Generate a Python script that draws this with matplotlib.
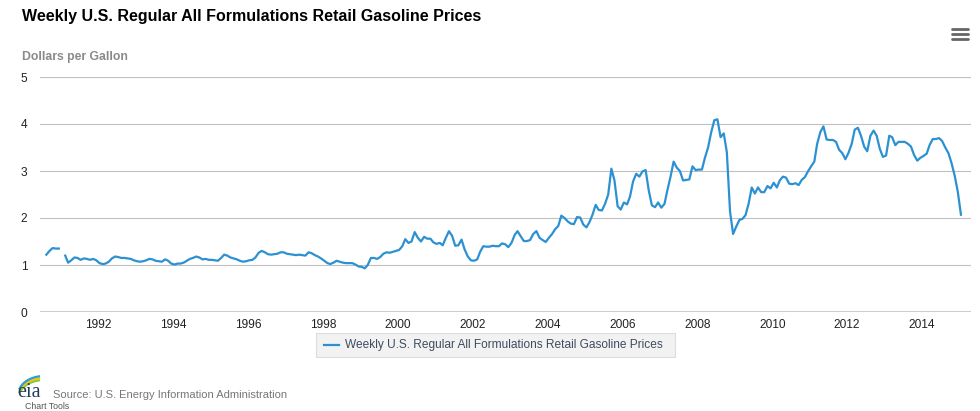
import matplotlib
matplotlib.use("Agg")
import matplotlib.pyplot as plt
import matplotlib.dates as mdates
from matplotlib.patches import Arc, Rectangle
from matplotlib.lines import Line2D
import numpy as np
import pandas as pd

plt.rcParams['font.family'] = ['Liberation Sans', 'DejaVu Sans']

# Monthly readings of the weekly series ($/gal), one list per year, Aug 1990 - Jan 2015
# (None = gap in the weekly data around Jan 1991)
p1990 = [1.22, 1.30, 1.36, 1.35, 1.35]
p1991 = [None, 1.20, 1.05, 1.10, 1.16, 1.15, 1.11, 1.14, 1.13, 1.11, 1.13, 1.10]
p1992 = [1.04, 1.02, 1.03, 1.07, 1.14, 1.18, 1.17, 1.15, 1.15, 1.14, 1.13, 1.10]
p1993 = [1.08, 1.07, 1.08, 1.10, 1.13, 1.12, 1.09, 1.08, 1.07, 1.12, 1.09, 1.03]
p1994 = [1.01, 1.03, 1.03, 1.05, 1.09, 1.13, 1.15, 1.18, 1.16, 1.12, 1.13, 1.11]
p1995 = [1.11, 1.10, 1.09, 1.15, 1.22, 1.20, 1.16, 1.14, 1.12, 1.09, 1.07, 1.08]
p1996 = [1.10, 1.11, 1.16, 1.26, 1.30, 1.27, 1.23, 1.22, 1.23, 1.24, 1.27, 1.27]
p1997 = [1.24, 1.23, 1.22, 1.21, 1.22, 1.21, 1.20, 1.27, 1.25, 1.21, 1.18, 1.14]
p1998 = [1.09, 1.04, 1.02, 1.05, 1.09, 1.07, 1.05, 1.04, 1.04, 1.04, 1.01, 0.97]
p1999 = [0.96, 0.93, 1.00, 1.15, 1.15, 1.13, 1.17, 1.24, 1.27, 1.26, 1.28, 1.30]
p2000 = [1.32, 1.40, 1.55, 1.47, 1.50, 1.70, 1.58, 1.50, 1.60, 1.56, 1.56, 1.48]
p2001 = [1.45, 1.47, 1.42, 1.58, 1.72, 1.62, 1.41, 1.42, 1.54, 1.33, 1.18, 1.10]
p2002 = [1.09, 1.12, 1.28, 1.40, 1.39, 1.39, 1.41, 1.40, 1.40, 1.46, 1.44, 1.38]
p2003 = [1.47, 1.64, 1.72, 1.61, 1.51, 1.51, 1.53, 1.66, 1.72, 1.58, 1.53, 1.49]
p2004 = [1.58, 1.66, 1.76, 1.83, 2.05, 2.00, 1.93, 1.88, 1.87, 2.02, 2.01, 1.86]
p2005 = [1.80, 1.92, 2.07, 2.28, 2.17, 2.16, 2.30, 2.50, 3.05, 2.80, 2.25, 2.18]
p2006 = [2.33, 2.29, 2.45, 2.78, 2.94, 2.88, 2.99, 3.02, 2.58, 2.27, 2.23, 2.33]
p2007 = [2.22, 2.30, 2.59, 2.88, 3.20, 3.07, 3.00, 2.80, 2.81, 2.82, 3.10, 3.02]
p2008 = [3.03, 3.03, 3.28, 3.50, 3.82, 4.08, 4.10, 3.72, 3.80, 3.40, 2.14, 1.66]
p2009 = [1.82, 1.96, 1.98, 2.06, 2.30, 2.65, 2.52, 2.65, 2.55, 2.55, 2.68, 2.63]
p2010 = [2.75, 2.65, 2.80, 2.88, 2.86, 2.73, 2.72, 2.74, 2.70, 2.81, 2.87, 2.99]
p2011 = [3.10, 3.20, 3.58, 3.83, 3.95, 3.67, 3.66, 3.66, 3.62, 3.45, 3.38, 3.25]
p2012 = [3.39, 3.58, 3.88, 3.92, 3.75, 3.52, 3.42, 3.75, 3.86, 3.75, 3.47, 3.30]
p2013 = [3.33, 3.75, 3.72, 3.55, 3.62, 3.62, 3.62, 3.58, 3.52, 3.34, 3.22, 3.28]
p2014 = [3.32, 3.37, 3.55, 3.68, 3.68, 3.70, 3.64, 3.50, 3.38, 3.17, 2.90, 2.56]
p2015 = [2.07]

series_name = 'Weekly U.S. Regular All Formulations Retail Gasoline Prices'
y_ticks = [0, 1, 2, 3, 4, 5]

prices = (p1990 + p1991 + p1992 + p1993 + p1994 + p1995 + p1996 + p1997 + p1998
          + p1999 + p2000 + p2001 + p2002 + p2003 + p2004 + p2005 + p2006 + p2007
          + p2008 + p2009 + p2010 + p2011 + p2012 + p2013 + p2014 + p2015)
prices = np.array([np.nan if v is None else v for v in prices], dtype=float)
dates = pd.date_range('1990-08-01', periods=len(prices), freq='MS') + pd.Timedelta(days=14)

line_color = '#2c91d2'

fig = plt.figure(figsize=(9.8, 4.11), dpi=100)
ax = fig.add_axes([40 / 980, 99 / 411, 931 / 980, 235 / 411])

ax.plot(dates, prices, color=line_color, linewidth=1.6, solid_joinstyle='round')

ax.set_ylim(0, 5)
ax.set_xlim(pd.Timestamp('1990-06-14'), pd.Timestamp('2015-04-23'))
ax.set_yticks(y_ticks)
ax.xaxis.set_major_locator(mdates.YearLocator(2))
ax.xaxis.set_major_formatter(mdates.DateFormatter('%Y'))

# Highcharts-like grid: light gray horizontal lines, dark baseline
ax.grid(axis='y', color='#c0c0c0', linewidth=0.8)
ax.axhline(0, color='#111111', linewidth=1.0, zorder=3)
for side in ['top', 'right', 'left', 'bottom']:
    ax.spines[side].set_visible(False)
ax.tick_params(axis='both', length=0, labelsize=8.6, colors='#222222')
ax.tick_params(axis='y', pad=9)
ax.tick_params(axis='x', pad=5)
for lbl in ax.get_yticklabels():
    lbl.set_horizontalalignment('right')

# Titles
fig.text(22 / 980, 1 - 17 / 411, 'Weekly U.S. Regular All Formulations Retail Gasoline Prices',
         fontsize=11.5, fontweight='bold', color='#000000', va='center', ha='left')
fig.text(22 / 980, 1 - 57 / 411, 'Dollars per Gallon', fontsize=8.8, fontweight='bold',
         color='#8a8a8a', va='center', ha='left')

# Menu icon
for yy in [29, 34, 39]:
    fig.add_artist(Line2D([952 / 980, 968 / 980], [1 - yy / 411, 1 - yy / 411],
                          color='#666666', linewidth=2.0, solid_capstyle='round'))

# Legend box
fig.add_artist(Rectangle((316 / 980, 1 - 357 / 411), 359 / 980, 24 / 411,
                         facecolor='#f2f2f2', edgecolor='#dddddd', linewidth=0.8))
fig.add_artist(Line2D([324 / 980, 339 / 980], [1 - 345 / 411, 1 - 345 / 411],
                      color=line_color, linewidth=1.6))
fig.text(345 / 980, 1 - 345 / 411, series_name, fontsize=8.6, color='#3d4d60',
         va='center', ha='left')

# EIA logo and source
fig.text(17 / 980, 1 - 397 / 411, 'eia', fontsize=14.5, color='#1f3a60',
         family=['Liberation Serif', 'DejaVu Serif'], va='baseline', ha='left')
arc_colors = ['#8cc63f', '#f5c400', '#2b9fd8']
for i, c in enumerate(arc_colors):
    fig.add_artist(Arc((44 / 980, 1 - (399 - 2 * i) / 411), 52 / 980, 38 / 411,
                       theta1=95, theta2=152, color=c, linewidth=1.6))
fig.text(53 / 980, 1 - 395 / 411, 'Source: U.S. Energy Information Administration',
         fontsize=8.0, color='#777777', va='center', ha='left')
fig.text(25 / 980, 1 - 410.8 / 411, 'Chart Tools', fontsize=6.3, color='#555555',
         va='bottom', ha='left')

fig.savefig('out.png', dpi=100)
